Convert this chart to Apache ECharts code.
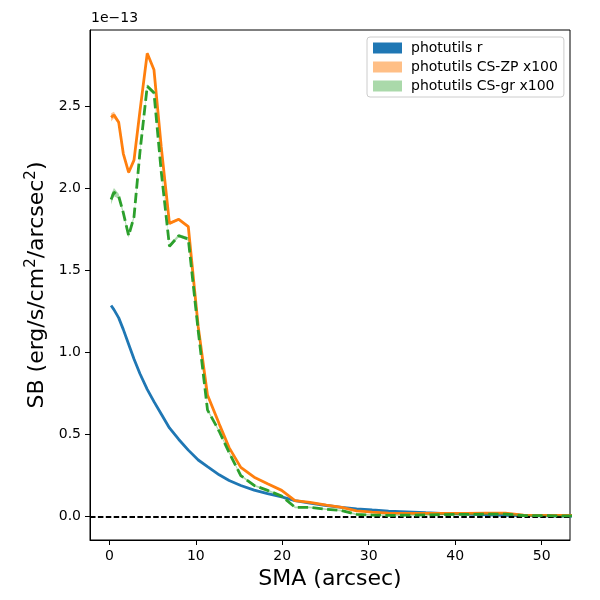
<!DOCTYPE html>
<html>
<head>
<meta charset="utf-8">
<script src="https://cdn.jsdelivr.net/npm/echarts@6/dist/echarts.min.js"></script>
<style>
  html, body { margin: 0; padding: 0; background: #fff; }
  #chart { width: 600px; height: 600px; }
</style>
</head>
<body>
<div id="chart"></div>
<script>
  'use strict'

  // SB values are in units of 1e-13 erg/s/cm2/arcsec2
  var sma = [0.2, 0.53, 1.08, 1.61, 2.23, 2.85, 3.54, 4.38, 5.16, 6.0,
             6.95, 8.03, 9.13, 10.28, 11.35, 12.7, 13.85, 15.2, 16.75, 18.3,
             19.93, 21.47, 23.2, 25.1, 26.87, 28.6, 30.4, 32.3, 34.4, 36.6,
             38.9, 41.3, 43.6, 45.8, 47.9, 50.1, 52.4, 54.7];

  var sbR = [1.285, 1.26, 1.21, 1.14, 1.05, 0.96, 0.87, 0.775, 0.70, 0.625,
             0.54, 0.47, 0.405, 0.345, 0.305, 0.255, 0.22, 0.19, 0.162, 0.14,
             0.12, 0.098, 0.083, 0.068, 0.057, 0.048, 0.041, 0.034, 0.029, 0.024,
             0.019, 0.015, 0.011, 0.008, 0.006, 0.005, 0.004, 0.004];

  var sbZP = [2.43, 2.445, 2.40, 2.21, 2.095, 2.17, 2.47, 2.82, 2.72, 2.25,
              1.785, 1.81, 1.765, 1.155, 0.74, 0.565, 0.42, 0.30, 0.24, 0.20,
              0.16, 0.098, 0.087, 0.07, 0.057, 0.035, 0.028, 0.022, 0.02, 0.02,
              0.02, 0.02, 0.021, 0.022, 0.01, 0.008, 0.007, 0.007];

  var errZP = [0.025, 0.02, 0.012, 0.01, 0.01, 0.01, 0.01, 0.01, 0.01, 0.01,
               0.008, 0.008, 0.008, 0.008, 0.007, 0.006, 0.006, 0.005, 0.005, 0.005,
               0.005, 0.004, 0.004, 0.004, 0.004, 0.004, 0.004, 0.004, 0.004, 0.004,
               0.004, 0.004, 0.004, 0.004, 0.004, 0.004, 0.004, 0.004];

  var sbGr = [1.93, 1.975, 1.95, 1.85, 1.71, 1.825, 2.22, 2.62, 2.58, 2.1,
              1.646, 1.71, 1.69, 1.13, 0.65, 0.52, 0.39, 0.25, 0.19, 0.16,
              0.125, 0.057, 0.057, 0.045, 0.037, 0.014, 0.01, 0.008, 0.009, 0.011,
              0.013, 0.014, 0.015, 0.016, 0.007, 0.006, 0.005, 0.005];

  var errGr = [0.03, 0.025, 0.015, 0.012, 0.012, 0.012, 0.012, 0.012, 0.012, 0.01,
               0.01, 0.01, 0.01, 0.009, 0.008, 0.007, 0.007, 0.006, 0.006, 0.006,
               0.006, 0.005, 0.005, 0.005, 0.005, 0.005, 0.005, 0.005, 0.005, 0.005,
               0.005, 0.005, 0.005, 0.005, 0.005, 0.005, 0.005, 0.005];

  var xTicks = [0, 10, 20, 30, 40, 50];
  var yTicks = [0, 0.5, 1.0, 1.5, 2.0, 2.5];

  var names = ['photutils r', 'photutils CS-ZP x100', 'photutils CS-gr x100'];

  var FONT = 'DejaVu Sans';

  function pairs(ys) {
    return sma.map(function (x, i) { return [x, ys[i]]; });
  }
  function bandData(ys, err) {
    return sma.map(function (x, i) { return [x, ys[i] - err[i], ys[i] + err[i]]; });
  }

  // fill_between-like band: one polygon drawn when the first item is rendered
  function bandRender(color, opacity) {
    return function (params, api) {
      if (params.dataIndexInside !== 0) return null;
      var n = params.dataInsideLength;
      var top = [], bot = [];
      for (var i = 0; i < n; i++) {
        top.push(api.coord([api.value(0, i), api.value(2, i)]));
        bot.push(api.coord([api.value(0, i), api.value(1, i)]));
      }
      return {
        type: 'polygon',
        shape: { points: top.concat(bot.reverse()) },
        style: { fill: color, opacity: opacity },
        silent: true
      };
    };
  }

  var chart = echarts.init(document.getElementById('chart'));

  var option = {
    animation: false,
    backgroundColor: '#fff',
    textStyle: { fontFamily: FONT },
    grid: { left: 90, right: 30, top: 30, bottom: 60, show: true, borderColor: '#000', borderWidth: 1 },
    legend: {
      orient: 'vertical',
      left: 367,
      top: 37,
      padding: [4, 6, 4, 6],
      itemWidth: 29,
      itemHeight: 11,
      itemGap: 5,
      icon: 'rect',
      borderColor: '#cccccc',
      borderWidth: 1,
      borderRadius: 3,
      backgroundColor: 'rgba(255,255,255,0.8)',
      textStyle: { fontFamily: FONT, fontSize: 14, color: '#000', padding: [0, 0, 0, 4] },
      data: [
        { name: names[0], itemStyle: { color: '#1f77b4', borderWidth: 0 } },
        { name: names[1], itemStyle: { color: '#ffbf86', borderWidth: 0 } },
        { name: names[2], itemStyle: { color: '#aad9aa', borderWidth: 0 } }
      ]
    },
    graphic: [
      { type: 'text', left: 91, top: 11,
        style: { text: '1e\u221213', font: '14px "DejaVu Sans"', fill: '#000' } }
    ],
    xAxis: {
      type: 'value',
      min: -2.24,
      max: 53.28,
      name: 'SMA (arcsec)',
      nameLocation: 'middle',
      nameGap: 26,
      nameTextStyle: { fontFamily: FONT, fontSize: 22, color: '#000' },
      axisLine: { show: true, onZero: false, lineStyle: { color: '#000', width: 1 } },
      splitLine: { show: false },
      axisTick: { show: true, length: 5, customValues: xTicks, lineStyle: { color: '#000' } },
      axisLabel: { customValues: xTicks, margin: 9, fontFamily: FONT, fontSize: 14, color: '#000' }
    },
    yAxis: {
      type: 'value',
      min: -0.142,
      max: 2.962,
      name: 'SB (erg/s/cm{sup|2}/arcsec{sup|2})',
      nameLocation: 'middle',
      nameGap: 40,
      nameTextStyle: {
        fontFamily: FONT, fontSize: 22, color: '#000',
        rich: { sup: { fontFamily: FONT, fontSize: 15, color: '#000', verticalAlign: 'top', lineHeight: 26 } }
      },
      axisLine: { show: true, onZero: false, lineStyle: { color: '#000', width: 1 } },
      splitLine: { show: false },
      axisTick: { show: true, length: 5, customValues: yTicks, lineStyle: { color: '#000' } },
      axisLabel: {
        customValues: yTicks, margin: 9, fontFamily: FONT, fontSize: 14, color: '#000',
        formatter: function (v) { return v.toFixed(1); }
      }
    },
    series: [
      {
        name: names[0], type: 'line', data: pairs(sbR), symbol: 'none',
        lineStyle: { color: '#1f77b4', width: 2.8 }, itemStyle: { color: '#1f77b4' }, z: 2
      },
      {
        name: 'zpBand', type: 'custom', data: bandData(sbZP, errZP), clip: true,
        encode: { x: 0, y: [1, 2] }, renderItem: bandRender('#ff7f0e', 0.45), z: 3
      },
      {
        name: names[1], type: 'line', data: pairs(sbZP), symbol: 'none',
        lineStyle: { color: '#ff7f0e', width: 2.8 }, itemStyle: { color: '#ff7f0e' }, z: 4
      },
      {
        name: 'grBand', type: 'custom', data: bandData(sbGr, errGr), clip: true,
        encode: { x: 0, y: [1, 2] }, renderItem: bandRender('#2ca02c', 0.4), z: 5
      },
      {
        name: names[2], type: 'line', data: pairs(sbGr), symbol: 'none',
        lineStyle: { color: '#2ca02c', width: 2.8, type: [10.3, 4.4] }, itemStyle: { color: '#2ca02c' }, z: 6,
        markLine: {
          silent: true, symbol: 'none', label: { show: false },
          lineStyle: { color: '#000', width: 2, type: [5.5, 2.4] },
          data: [{ yAxis: 0 }]
        }
      }
    ]
  };

  chart.setOption(option);
</script>
</body>
</html>
